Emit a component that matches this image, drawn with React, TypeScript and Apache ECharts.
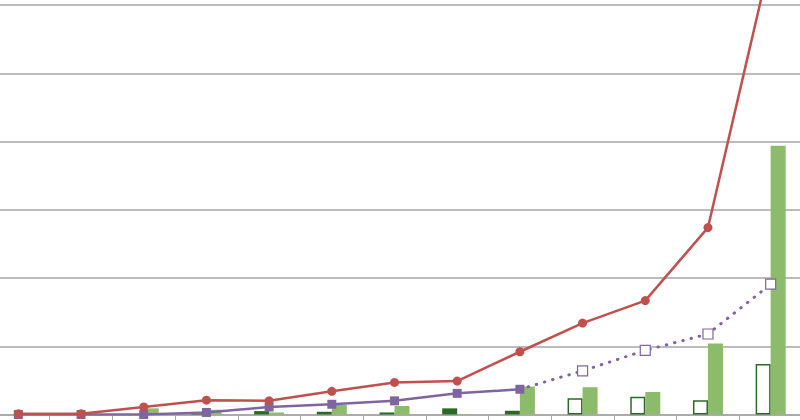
import React, { useEffect, useRef } from "react";
import * as echarts from "echarts";

const categories = ["1", "2", "3", "4", "5", "6", "7", "8", "9", "10", "11", "12", "13"];
const redValues = [0.1, 0.1, 1.1, 2.1, 2.0, 3.4, 4.7, 4.9, 9.2, 13.4, 16.7, 27.4, 66.9];
const purpleActual = [0, 0, 0, 0.3, 1.1, 1.5, 2.0, 3.1, 3.7];
const purpleProjected = [6.4, 9.4, 11.8, 19.1];
const darkActual = [0, 0, 0, 0.2, 0.5, 0.4, 0.3, 0.9, 0.55];
const darkProjected = [2.4, 2.6, 2.1, 7.4];
const lightValues = [0, 0, 0.9, 0.7, 0.3, 1.4, 1.25, 0.05, 4.1, 4.0, 3.3, 10.4, 39.4];
const yTicks = { min: 0, max: 70, interval: 10 };

const RED = "#C0504D";
const PURPLE = "#8064A2";
const LIGHT = "#8DBB6C";
const DARK = "#2A6A27";
const GRID = "#A6A6A6";

export default function App() {
  const ref = useRef<HTMLDivElement>(null);
  useEffect(() => {
    if (!ref.current) return;
    const chart = echarts.init(ref.current, undefined, { renderer: "svg" });
    const splitAt = purpleActual.length - 1;
    const purpleSolid = categories.map((_, i) => (i < purpleActual.length ? purpleActual[i] : "-"));
    const purpleDotted = categories.map((_, i) => {
      if (i < splitAt) return "-";
      if (i === splitAt) return { value: purpleActual[splitAt], symbol: "none" };
      return purpleProjected[i - purpleActual.length];
    });
    const darkData = categories.map((_, i) =>
      i < darkActual.length
        ? darkActual[i]
        : {
            value: darkProjected[i - darkActual.length],
            itemStyle: { color: "#ffffff", borderColor: DARK, borderWidth: 1.5 },
          }
    );
    chart.setOption({
      animation: false,
      grid: { left: 0, right: 0, top: 0, bottom: 5.5, containLabel: false },
      xAxis: {
        type: "category",
        data: categories,
        boundaryGap: true,
        axisLine: { show: true, lineStyle: { color: GRID, width: 1.5 } },
        axisTick: { show: true, length: 6, lineStyle: { color: GRID, width: 1 } },
        axisLabel: { show: false },
        splitLine: { show: false },
      },
      yAxis: {
        type: "value",
        min: yTicks.min,
        max: yTicks.max,
        interval: yTicks.interval,
        axisLine: { show: false },
        axisTick: { show: false },
        axisLabel: { show: false },
        splitLine: { show: true, lineStyle: { color: GRID, width: 1.5 } },
      },
      series: [
        {
          type: "bar",
          data: darkData,
          barWidth: 15,
          barGap: "0%",
          itemStyle: { color: DARK },
          z: 1,
        },
        {
          type: "bar",
          data: lightValues,
          barWidth: 15,
          barGap: "0%",
          itemStyle: { color: LIGHT },
          z: 1,
        },
        {
          type: "line",
          data: purpleDotted,
          symbol: "rect",
          symbolSize: 10,
          showAllSymbol: true,
          lineStyle: { color: PURPLE, width: 3, type: [0.5, 8], cap: "round" },
          itemStyle: { color: "#ffffff", borderColor: PURPLE, borderWidth: 1.2 },
          z: 3,
        },
        {
          type: "line",
          data: purpleSolid,
          symbol: "rect",
          symbolSize: 9,
          showAllSymbol: true,
          lineStyle: { color: PURPLE, width: 2.5 },
          itemStyle: { color: PURPLE },
          z: 4,
        },
        {
          type: "line",
          data: redValues,
          symbol: "circle",
          symbolSize: 9,
          showAllSymbol: true,
          clip: false,
          lineStyle: { color: RED, width: 2.5 },
          itemStyle: { color: RED },
          z: 5,
        },
      ],
    });
    return () => chart.dispose();
  }, []);
  return (
    <div
      ref={ref}
      style={{
        position: "fixed",
        left: -13.4,
        top: -63,
        width: 815.2,
        height: 483,
        background: "#ffffff",
      }}
    />
  );
}
